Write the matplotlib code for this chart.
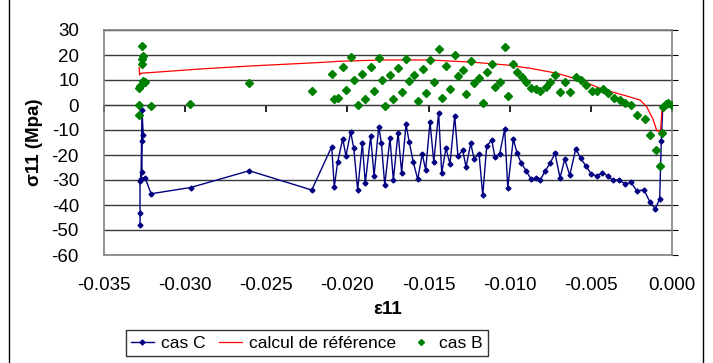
import matplotlib
matplotlib.use("Agg")
import matplotlib.pyplot as plt
from matplotlib.lines import Line2D

plt.rcParams['font.family'] = ['Liberation Sans', 'DejaVu Sans']

# ---- data ----
casC_eps = [-0.03278, -0.03278, -0.03278, -0.03266, -0.03266, -0.03258, -0.03266, -0.03272,
            -0.03247, -0.03210, -0.02966, -0.02605, -0.02220, -0.02097, -0.02081, -0.02060,
            -0.02029, -0.02009, -0.01980, -0.01961, -0.01937, -0.01908, -0.01890, -0.01857,
            -0.01836, -0.01807, -0.01791, -0.01770, -0.01738, -0.01717, -0.01688, -0.01666,
            -0.01639, -0.01619, -0.01594, -0.01567, -0.01539, -0.01518, -0.01491, -0.01468,
            -0.01438, -0.01419, -0.01393, -0.01368, -0.01339, -0.01319, -0.01290, -0.01269,
            -0.01240, -0.01220, -0.01189, -0.01166, -0.01142, -0.01111, -0.01091, -0.01062,
            -0.01031, -0.01012, -0.00978, -0.00955, -0.00929, -0.00898, -0.00869, -0.00840,
            -0.00812, -0.00781, -0.00750, -0.00721, -0.00690, -0.00661, -0.00630, -0.00593,
            -0.00563, -0.00530, -0.00497, -0.00464, -0.00429, -0.00396, -0.00364, -0.00325,
            -0.00288, -0.00254, -0.00216, -0.00173, -0.00136, -0.00103, -0.00076, -0.00066,
            -0.00057, -0.00037, -0.00018, 0.0]
casC_sig = [-48.0, -43.0, -30.3, -26.7, -14.3, -12.0, -2.0, -29.5,
            -29.0, -35.5, -33.0, -26.3, -34.0, -16.7, -32.7, -22.7,
            -13.5, -20.4, -10.8, -17.3, -34.0, -15.3, -31.3, -12.4,
            -28.4, -8.7, -15.0, -32.1, -13.3, -30.0, -11.0, -27.0,
            -7.7, -14.9, -22.9, -29.7, -19.6, -26.0, -6.8, -22.8,
            -3.1, -27.2, -17.3, -23.6, -4.4, -20.5, -18.0, -24.8,
            -15.3, -21.5, -19.6, -36.1, -16.5, -14.0, -20.9, -19.6,
            -9.6, -33.1, -13.6, -19.2, -23.3, -26.4, -29.6, -29.3,
            -30.0, -26.3, -23.2, -19.3, -29.1, -21.7, -28.1, -17.5,
            -21.3, -24.4, -27.6, -28.4, -27.1, -28.4, -30.0, -30.0,
            -31.7, -30.8, -34.4, -33.9, -38.8, -41.5, -37.6, -14.4,
            -0.9, 0.0, 0.3, 0.0]

ref_eps = [0.0, -0.00060, -0.00071, -0.00094, -0.00115, -0.00156, -0.00197, -0.00280,
           -0.00341, -0.00444, -0.00567, -0.00710, -0.00875, -0.01019, -0.01224, -0.01491,
           -0.01799, -0.02046, -0.02169, -0.02292, -0.02600, -0.02908, -0.03272, -0.03281,
           -0.03283]
ref_sig = [0.0, -0.5, -10.5, -10.3, -6.0, -0.7, 2.0, 3.6,
           4.7, 6.7, 10.0, 12.7, 14.7, 16.0, 17.1, 18.0,
           18.0, 17.5, 17.0, 16.6, 15.6, 14.4, 12.7, 12.0,
           15.0]

casB_eps = [-0.03266, -0.03258, -0.03266, -0.03266, -0.03262, -0.03249, -0.03278, -0.03284,
            -0.03283, -0.03209, -0.03283, -0.02968, -0.02605, -0.02216, -0.02097, -0.02081,
            -0.02060, -0.02027, -0.02007, -0.01980, -0.01960, -0.01937, -0.01908, -0.01890,
            -0.01857, -0.01836, -0.01807, -0.01789, -0.01770, -0.01736, -0.01717, -0.01690,
            -0.01666, -0.01637, -0.01619, -0.01590, -0.01567, -0.01536, -0.01518, -0.01489,
            -0.01467, -0.01438, -0.01419, -0.01391, -0.01366, -0.01337, -0.01319, -0.01288,
            -0.01268, -0.01239, -0.01220, -0.01188, -0.01166, -0.01140, -0.01109, -0.01089,
            -0.01060, -0.01029, -0.01011, -0.00978, -0.00953, -0.00926, -0.00898, -0.00869,
            -0.00840, -0.00812, -0.00778, -0.00752, -0.00721, -0.00688, -0.00659, -0.00627,
            -0.00593, -0.00563, -0.00528, -0.00495, -0.00460, -0.00427, -0.00394, -0.00359,
            -0.00322, -0.00288, -0.00253, -0.00214, -0.00169, -0.00134, -0.00100, -0.00076,
            -0.00063, -0.00054, -0.00039, -0.00023, -0.00003, 0.0]
casB_sig = [23.5, 19.6, 18.4, 16.4, 9.7, 9.3, 7.6, 6.9,
            0.1, -0.5, -4.0, 0.4, 8.9, 5.6, 12.4, 2.4,
            2.8, 15.3, 5.9, 19.1, 10.1, 0.0, 12.4, 2.5,
            15.1, 5.6, 18.8, 9.9, -0.3, 12.0, 2.3, 14.8,
            5.3, 18.5, 9.6, 11.9, 1.6, 14.3, 4.7, 17.9,
            9.1, 22.4, 2.8, 15.7, 6.5, 19.9, 11.5, 13.9,
            4.3, 17.6, 8.7, 10.8, 0.7, 13.3, 16.3, 7.1,
            9.2, 23.1, 3.7, 16.5, 13.3, 11.3, 9.2, 6.7,
            6.3, 5.6, 7.2, 9.2, 11.9, 5.3, 9.2, 5.2,
            11.3, 9.9, 8.1, 5.6, 5.5, 6.3, 4.7, 2.8,
            2.0, 0.7, 0.0, -4.0, -5.7, -11.9, -18.1, -24.4,
            -11.2, -0.9, 0.3, 0.7, 0.2, 0.0]

x_ticks = [-0.035, -0.030, -0.025, -0.020, -0.015, -0.010, -0.005, 0.000]
y_ticks = [-60, -50, -40, -30, -20, -10, 0, 10, 20, 30]

# ---- figure ----
fig = plt.figure(figsize=(7.13, 3.63), dpi=100)
ax = fig.add_axes([104/713, 1-255/363, (672-104)/713, (255-30)/363])

for yv in y_ticks:
    ax.axhline(yv, color='#3a3a3a', lw=1.0, zorder=1)

ax.plot(casC_eps, casC_sig, color='#000080', lw=1.0, marker='D', ms=2.5,
        label='cas C', zorder=3)
ax.plot(ref_eps, ref_sig, color='#ff0000', lw=0.9, label='calcul de référence', zorder=4)
ax.plot(casB_eps, casB_sig, ls='none', color='#008000', marker='D', ms=3.7,
        label='cas B', zorder=5)

ax.set_xlim(-0.035, 0.0)
ax.set_ylim(-60, 30)
ax.set_xticks(x_ticks)
ax.set_xticklabels([f"{v:.3f}" for v in x_ticks])
ax.set_yticks(y_ticks)
ax.set_yticklabels([str(v) for v in y_ticks])

for s in ax.spines.values():
    s.set_color('#808080')
    s.set_linewidth(1.2)

ax.tick_params(axis='x', length=0, pad=16, labelsize=13.5)
ax.tick_params(axis='y', left=False, right=True, labelleft=True, labelright=False,
               direction='out', length=4, color='#000000', pad=14, labelsize=13.5)

# x axis crossing at y = 0 (tick marks there)
sec = ax.secondary_xaxis(60/90)
sec.set_xticks(x_ticks)
sec.tick_params(axis='x', direction='out', length=5, labelbottom=False, labeltop=False,
                top=False, bottom=True, color='#000000', width=1.2)
sec.spines['bottom'].set_color('#000000')
sec.spines['bottom'].set_linewidth(1.2)

ax.set_xlabel('ε11', fontsize=13.5, fontweight='bold', labelpad=5)
ax.set_ylabel('σ11 (Mpa)', fontsize=13.5, fontweight='bold', labelpad=6)

handles = [Line2D([], [], color='#000080', lw=1.0, marker='D', ms=2.5),
           Line2D([], [], color='#ff0000', lw=0.9),
           Line2D([], [], ls='none', color='#008000', marker='D', ms=3.0)]
leg = fig.legend(handles, ['cas C', 'calcul de référence', 'cas B'], ncol=3,
                 loc='center', bbox_to_anchor=(307/713, 1-343/363), fontsize=12.5,
                 frameon=True, fancybox=False, edgecolor='#000000', handlelength=1.3,
                 handletextpad=0.4, columnspacing=0.8, borderpad=0.3)
leg.get_frame().set_linewidth(1.0)

# outer chart border
fig.add_artist(Line2D([9/713, 9/713], [0, 1], color='#000000', lw=1.0, transform=fig.transFigure))
fig.add_artist(Line2D([703/713, 703/713], [0, 1], color='#000000', lw=1.0, transform=fig.transFigure))

fig.savefig('out.png', dpi=100)
